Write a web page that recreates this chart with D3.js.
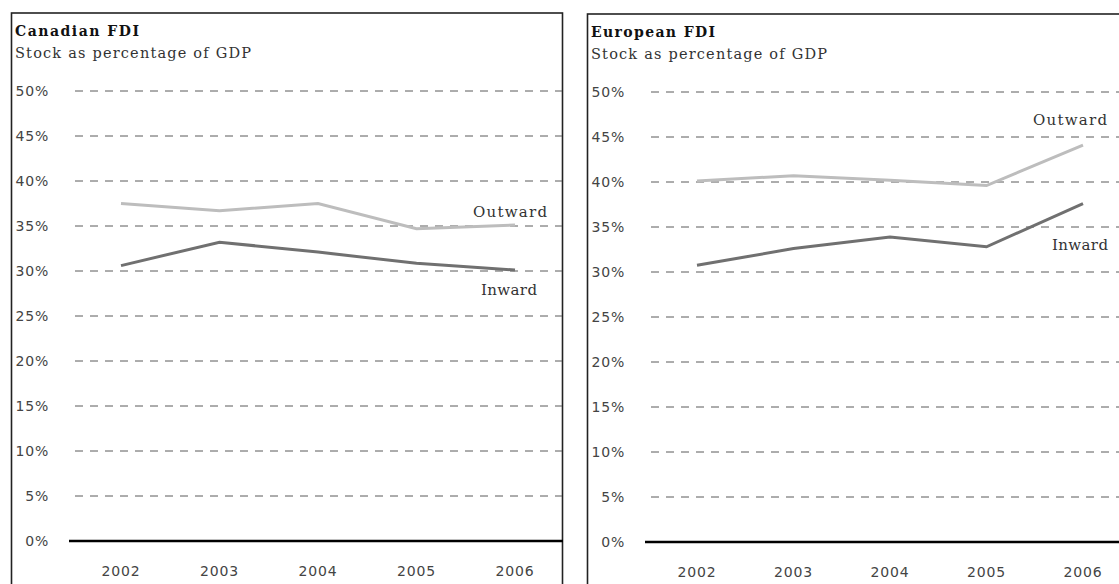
<!DOCTYPE html>
<html lang="en">
<head>
<meta charset="UTF-8">
<title>FDI stock</title>
<script src="https://d3js.org/d3.v7.min.js"></script>
<style>
  body { margin: 0; background: #fff; }
  .title { font-family: "DejaVu Serif", serif; font-weight: bold; font-size: 14px; fill: #111; }
  .sub { font-family: "DejaVu Serif", serif; font-size: 14.5px; fill: #333; }
  .tick { font-family: "DejaVu Sans", sans-serif; font-size: 14px; fill: #444; letter-spacing: 0.8px; }
  .serlab { font-family: "DejaVu Serif", serif; font-size: 15px; fill: #333; }
</style>
</head>
<body>
<div id="chart"></div>
<script>
// data
var years = ["2002", "2003", "2004", "2005", "2006"];
var yTicks = [0, 5, 10, 15, 20, 25, 30, 35, 40, 45, 50];
var canadaOutward = [37.5, 36.7, 37.5, 34.7, 35.1];
var canadaInward  = [30.6, 33.2, 32.1, 30.85, 30.1];
var europeOutward = [40.1, 40.7, 40.2, 39.6, 44.1];
var europeInward  = [30.75, 32.6, 33.9, 32.8, 37.6];

var W = 1119, H = 584;
var svg = d3.select("#chart").append("svg")
    .attr("width", W)
    .attr("height", H);

function drawPanel(opt) {
  var g = svg.append("g").attr("transform", "translate(" + opt.dx + "," + opt.dy + ")");

  // panel frame
  g.append("rect")
    .attr("x", 11.5).attr("y", 13)
    .attr("width", 551).attr("height", 600)
    .attr("fill", "none")
    .attr("stroke", "#222")
    .attr("stroke-width", 1.6);

  g.append("text").attr("class", "title")
    .attr("x", 15).attr("y", 36)
    .attr("textLength", 124).attr("lengthAdjust", "spacing")
    .text(opt.title);
  g.append("text").attr("class", "sub")
    .attr("x", 15).attr("y", 58)
    .attr("textLength", 236).attr("lengthAdjust", "spacing")
    .text("Stock as percentage of GDP");

  var x = d3.scalePoint().domain(years).range([121, 121 + opt.span]);
  var y = d3.scaleLinear().domain([0, 50]).range([541, 91]);

  // dashed gridlines
  g.append("g").selectAll("line")
    .data(yTicks.filter(function(d) { return d > 0; }))
    .enter().append("line")
      .attr("x1", 75).attr("x2", 562)
      .attr("y1", function(d) { return y(d); })
      .attr("y2", function(d) { return y(d); })
      .attr("stroke", "#5a5a5a")
      .attr("stroke-width", 1)
      .attr("stroke-dasharray", "8,7");

  // zero line
  g.append("line")
    .attr("x1", 69).attr("x2", 563)
    .attr("y1", y(0)).attr("y2", y(0))
    .attr("stroke", "#000")
    .attr("stroke-width", 2.6);

  // y labels
  g.append("g").selectAll("text")
    .data(yTicks)
    .enter().append("text")
      .attr("class", "tick")
      .attr("x", 49)
      .attr("y", function(d) { return y(d); })
      .attr("dy", "0.36em")
      .attr("text-anchor", "end")
      .text(function(d) { return d + "%"; });

  // x labels
  g.append("g").selectAll("text")
    .data(years)
    .enter().append("text")
      .attr("class", "tick")
      .attr("x", function(d) { return x(d); })
      .attr("y", 576)
      .attr("text-anchor", "middle")
      .text(function(d) { return d; });

  var line = d3.line()
    .x(function(d, i) { return x(years[i]); })
    .y(function(d) { return y(d); });

  g.append("path").datum(opt.outward)
    .attr("d", line)
    .attr("fill", "none")
    .attr("stroke", "#bdbdbd")
    .attr("stroke-width", 3);
  g.append("path").datum(opt.inward)
    .attr("d", line)
    .attr("fill", "none")
    .attr("stroke", "#707070")
    .attr("stroke-width", 3);

  g.append("text").attr("class", "serlab")
    .attr("x", opt.outLab[0]).attr("y", opt.outLab[1])
    .attr("textLength", 74).attr("lengthAdjust", "spacing")
    .text("Outward");
  g.append("text").attr("class", "serlab")
    .attr("x", opt.inLab[0]).attr("y", opt.inLab[1])
    .attr("textLength", 56).attr("lengthAdjust", "spacing")
    .text("Inward");
}

drawPanel({
  dx: 0, dy: 0, span: 394,
  title: "Canadian FDI",
  outward: canadaOutward, inward: canadaInward,
  outLab: [473, 217], inLab: [481, 295]
});

drawPanel({
  dx: 576, dy: 1, span: 386,
  title: "European FDI",
  outward: europeOutward, inward: europeInward,
  outLab: [457, 124], inLab: [476, 249]
});
</script>
</body>
</html>
